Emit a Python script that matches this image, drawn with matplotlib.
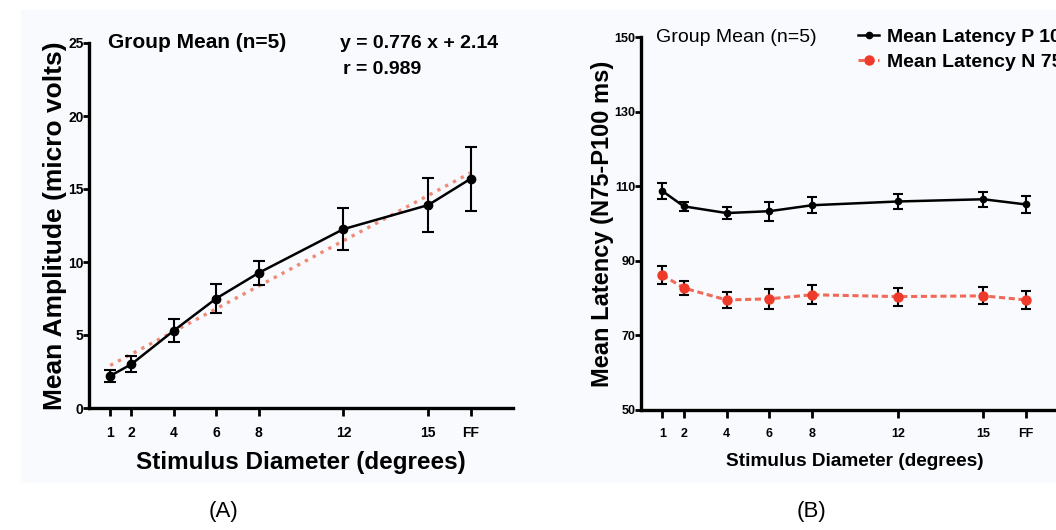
import matplotlib.pyplot as plt
from matplotlib.patches import Rectangle
from matplotlib.lines import Line2D

plt.rcParams['font.family'] = ['Liberation Sans', 'DejaVu Sans']

# stimulus diameters (FF plotted at 18)
x_pos = [1, 2, 4, 6, 8, 12, 16, 18]
x_labels = ["1", "2", "4", "6", "8", "12", "15", "FF"]

# (A) amplitude
amp_mean = [2.2, 3.0, 5.3, 7.5, 9.25, 12.25, 13.9, 15.7]
amp_err = [0.4, 0.55, 0.8, 1.0, 0.85, 1.45, 1.85, 2.2]
fit_slope = 0.776
fit_icpt = 2.14

# (B) latencies
lat_p100 = [108.7, 104.6, 102.8, 103.3, 104.9, 105.9, 106.5, 105.1]
lat_p100_err = [2.1, 1.2, 1.7, 2.5, 2.2, 2.0, 2.0, 2.2]
lat_n75 = [86.2, 82.7, 79.5, 79.8, 80.9, 80.4, 80.6, 79.5]
lat_n75_err = [2.3, 1.9, 2.2, 2.6, 2.5, 2.4, 2.3, 2.4]

RED_LINE = "#f06a58"
RED_DOT = "#ee3a2a"

W, H = 1056, 530
fig = plt.figure(figsize=(W / 100, H / 100), dpi=100)
fig.patches.append(Rectangle((21 / W, 1 - 482 / H), 1, (482 - 10) / H,
                             transform=fig.transFigure, color="#f8fafd", zorder=-5))


def px_axes(l, r, t, b):
    return fig.add_axes([l / W, 1 - b / H, (r - l) / W, (b - t) / H])


def style(ax, xsize, ysize):
    ax.set_facecolor("none")
    for s in ["top", "right"]:
        ax.spines[s].set_visible(False)
    for s in ["left", "bottom"]:
        ax.spines[s].set_linewidth(2.4)
    ax.tick_params(axis="x", direction="out", length=6, width=2, labelsize=xsize, pad=7)
    ax.tick_params(axis="y", direction="out", length=4, width=2, labelsize=ysize, pad=0)
    for lab in ax.get_xticklabels() + ax.get_yticklabels():
        lab.set_fontweight("bold")


# ---------------- (A)
axA = px_axes(89, 513, 43, 408)
fx = [x_pos[0], x_pos[-1]]
axA.plot(fx, [fit_slope * v + fit_icpt for v in fx], ls=":", color="#f08a78",
         lw=2.4, zorder=1)
axA.errorbar(x_pos, amp_mean, yerr=amp_err, color="black", marker="o", ms=6,
             lw=1.8, capsize=4, elinewidth=1.5, capthick=1.5, zorder=3)
axA.set_xlim(0, 20)
axA.set_ylim(0, 25)
axA.set_xticks(x_pos, x_labels)
axA.set_yticks([0, 5, 10, 15, 20, 25])
style(axA, 10, 10)
axA.set_xlabel("Stimulus Diameter (degrees)", fontsize=17.5, fontweight="bold", labelpad=8)
axA.set_ylabel("Mean Amplitude (micro volts)", fontsize=19, fontweight="bold", labelpad=1)
axA.text(108 / W, 1 - 43 / H, "Group Mean (n=5)", transform=fig.transFigure,
         fontsize=15, fontweight="bold", va="center")
axA.text(340 / W, 1 - 43 / H, "y = 0.776 x + 2.14", transform=fig.transFigure,
         fontsize=14, fontweight="bold", va="center")
axA.text(343 / W, 1 - 70 / H, "r = 0.989", transform=fig.transFigure,
         fontsize=14, fontweight="bold", va="center")

# ---------------- (B)
axB = px_axes(641, 1069, 37, 410)
axB.errorbar(x_pos, lat_p100, yerr=lat_p100_err, color="black", marker="o", ms=4.5,
             lw=1.8, capsize=3.5, elinewidth=1.5, capthick=1.5, zorder=3)
axB.errorbar(x_pos, lat_n75, yerr=lat_n75_err, color=RED_LINE, marker="o", ms=6.5,
             mfc=RED_DOT, mec=RED_DOT, lw=2.2, ls=(0, (2, 1.2)),
             ecolor="black", capsize=3.5, elinewidth=1.5, capthick=1.5, zorder=3)
axB.set_xlim(0, 20)
axB.set_ylim(50, 150)
axB.set_xticks(x_pos, x_labels)
axB.set_yticks([50, 70, 90, 110, 130, 150])
style(axB, 9, 9)
axB.set_xlabel("Stimulus Diameter (degrees)", fontsize=13.7, fontweight="bold", labelpad=9)
axB.set_ylabel("Mean Latency (N75-P100 ms)", fontsize=17, fontweight="bold", labelpad=0)
axB.text(656 / W, 1 - 37 / H, "Group Mean (n=5)", transform=fig.transFigure,
         fontsize=14, va="center")
handles = [
    Line2D([], [], color="black", lw=1.8, marker="o", ms=4.5),
    Line2D([], [], color=RED_LINE, lw=2.2, ls=(0, (2, 1.2)), marker="o", ms=6.5,
           mfc=RED_DOT, mec=RED_DOT),
]
axB.legend(handles, ["Mean Latency P 100", "Mean Latency N 75"], loc="upper left",
           bbox_to_anchor=(858 / W, 1 - 28 / H), bbox_transform=fig.transFigure,
           frameon=False, handlelength=1.1, handletextpad=0.4, labelspacing=0.4,
           borderpad=0, borderaxespad=0, prop={"size": 14, "weight": "bold"})

fig.text(223 / W, 1 - 512 / H, "(A)", fontsize=16, ha="center", va="center")
fig.text(812 / W, 1 - 512 / H, "(B)", fontsize=16, ha="center", va="center")

fig.savefig("out.png", dpi=100)
